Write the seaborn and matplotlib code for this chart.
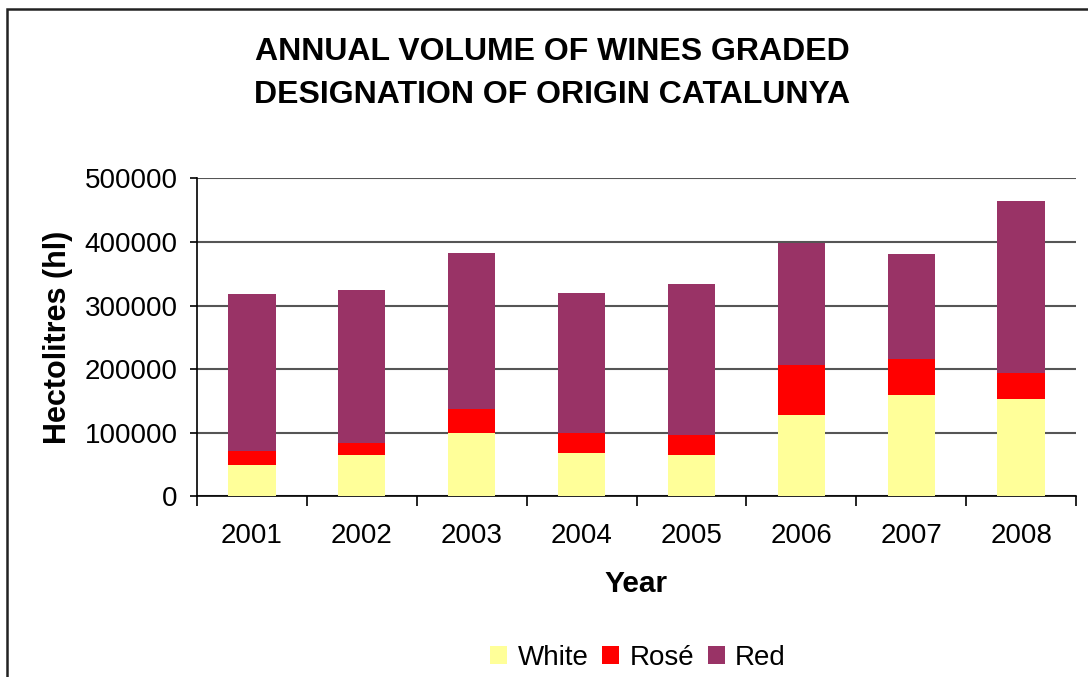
import matplotlib
matplotlib.use("Agg")
import matplotlib.pyplot as plt
import matplotlib.patches as mpatches
from matplotlib.ticker import FixedLocator
import seaborn as sns
import numpy as np
import pandas as pd

years = ["2001", "2002", "2003", "2004", "2005", "2006", "2007", "2008"]
white = [50000, 65000, 100000, 68000, 65000, 128000, 159000, 153000]
rose = [21000, 19000, 37000, 32000, 31000, 78500, 57000, 41000]
red = [247000, 240500, 245500, 220000, 237500, 192500, 165000, 270500]

series_names = ["White", "Rosé", "Red"]
colors = {"White": "#FFFF99", "Rosé": "#FF0000", "Red": "#993366"}

sns.set_theme(style="white")
plt.rcParams["font.family"] = ["Liberation Sans", "DejaVu Sans"]

df = pd.DataFrame({"Year": years, "White": white, "Rosé": rose, "Red": red})
df["cum_white"] = df["White"]
df["cum_rose"] = df["White"] + df["Rosé"]
df["cum_red"] = df["White"] + df["Rosé"] + df["Red"]

fig = plt.figure(figsize=(10.88, 6.77), dpi=100)
ax = fig.add_axes([197 / 1088, 1 - 496.3 / 677, 879 / 1088, 318 / 677])

for col, name in [("cum_red", "Red"), ("cum_rose", "Rosé"), ("cum_white", "White")]:
    sns.barplot(data=df, x="Year", y=col, color=colors[name], saturation=1,
                width=0.43, ax=ax, edgecolor="none", linewidth=0, zorder=3)

ax.set_xlim(-0.5, 7.5)
ax.set_ylim(0, 500000)
ax.set_yticks(np.arange(0, 500001, 100000))
ax.set_yticklabels([str(v) for v in range(0, 500001, 100000)])
ax.yaxis.grid(True, color="#555555", linewidth=1.5, zorder=0)
ax.set_axisbelow(True)

for s in ["top", "right"]:
    ax.spines[s].set_visible(False)
for s in ["left", "bottom"]:
    ax.spines[s].set_color("black")
    ax.spines[s].set_linewidth(1.2)

ax.tick_params(axis="x", which="major", length=0, pad=19, labelsize=20, colors="black")
ax.xaxis.set_minor_locator(FixedLocator(np.arange(-0.5, 8, 1)))
ax.tick_params(axis="x", which="minor", bottom=True, length=7, width=1.2, direction="out", color="black")
ax.tick_params(axis="y", which="major", left=True, length=5, width=1.2, direction="out", pad=9,
               labelsize=20, colors="black")

ax.set_xlabel("Year", fontsize=21.5, fontweight="bold", color="black")
ax.xaxis.set_label_coords(0.4994, (496.3 - 570) / 318)
ax.set_ylabel("Hectolitres (hl)", fontsize=22, fontweight="bold", color="black")
ax.yaxis.set_label_coords((73 - 197) / 879, 0.5)

fig.text(552 / 1088, 1 - 52 / 677, "ANNUAL VOLUME OF WINES GRADED", ha="center", va="center",
         fontsize=23, fontweight="bold", color="black")
fig.text(552 / 1088, 1 - 95 / 677, "DESIGNATION OF ORIGIN CATALUNYA", ha="center", va="center",
         fontsize=23, fontweight="bold", color="black")

handles = [mpatches.Patch(facecolor=colors[n], edgecolor="none", label=n) for n in series_names]
leg = fig.legend(handles=handles, loc="center", bbox_to_anchor=(638 / 1088, 1 - 658 / 677), ncol=3,
                 frameon=False, fontsize=20, handlelength=0.62, handleheight=0.62,
                 handletextpad=0.36, columnspacing=0.5, borderaxespad=0, borderpad=0)
for t in leg.get_texts():
    t.set_color("black")

border = mpatches.Rectangle((7 / 1088, -0.05), 1.1, 1.05 - 8.5 / 677, transform=fig.transFigure,
                            fill=False, edgecolor="#222222", linewidth=1.8, clip_on=False)
fig.patches.append(border)

fig.savefig("out.png", dpi=100)
